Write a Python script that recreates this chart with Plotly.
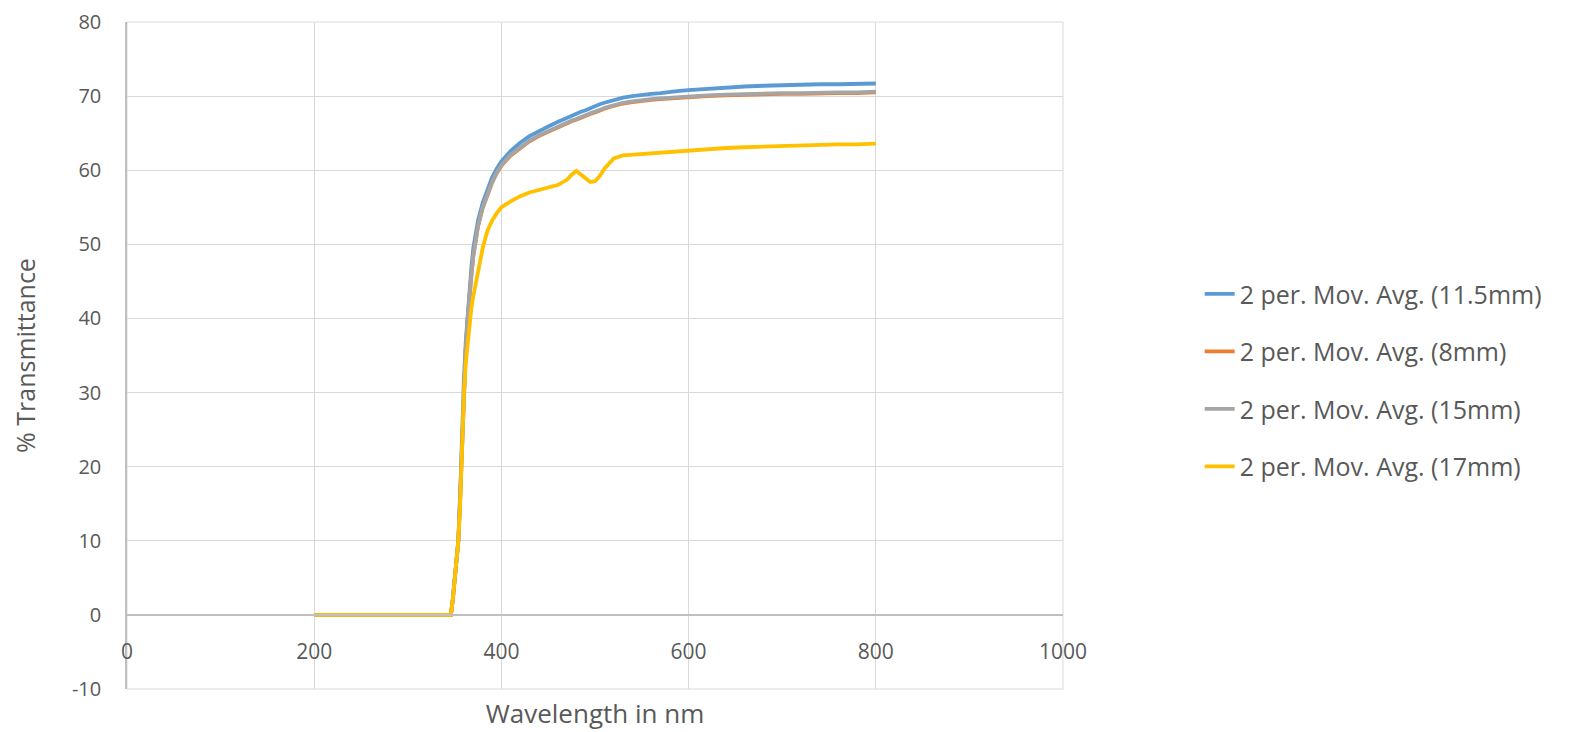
import plotly.graph_objects as go

wavelength = [200, 346, 348, 350, 352, 354, 356, 358, 360, 362,
              364, 366, 368, 370, 375, 380, 385, 390, 395, 400,
              410, 420, 430, 440, 450, 460, 470, 475, 480, 485,
              490, 495, 500, 505, 510, 515, 520, 530, 540, 550,
              560, 570, 580, 590, 600, 620, 640, 660, 680, 700,
              720, 740, 760, 780, 800]

t_11_5mm = [0, 0, 2, 5, 7.5, 10, 16.5, 25, 32, 37,
            41, 44.5, 47, 49.5, 53.2, 55.6, 57.5, 59, 60.2, 61.2,
            62.6, 63.7, 64.6, 65.3, 65.9, 66.5, 67.1, 67.3, 67.6, 67.9,
            68.1, 68.4, 68.6, 68.9, 69.1, 69.3, 69.5, 69.8, 70.0, 70.2,
            70.3, 70.4, 70.6, 70.7, 70.8, 71.0, 71.1, 71.3, 71.4, 71.5,
            71.5, 71.6, 71.6, 71.7, 71.7]

t_8mm = [0, 0, 2, 5, 7.5, 10, 16, 24, 31, 36,
         40, 43.4, 45.9, 48.4, 52.4, 54.9, 56.8, 58.3, 59.6, 60.6,
         62.0, 63.0, 63.9, 64.6, 65.2, 65.8, 66.3, 66.6, 66.8, 67.1,
         67.3, 67.6, 67.8, 68.1, 68.3, 68.5, 68.7, 69.0, 69.2, 69.4,
         69.5, 69.6, 69.7, 69.8, 69.9, 70.0, 70.1, 70.2, 70.2, 70.3,
         70.3, 70.4, 70.4, 70.4, 70.5]

t_15mm = [0, 0, 2, 5, 7.5, 10, 16, 24, 31, 36,
          40, 43.5, 46, 48.5, 52.5, 55, 56.9, 58.4, 59.7, 60.7,
          62.1, 63.1, 64.0, 64.7, 65.3, 65.9, 66.4, 66.7, 66.9, 67.2,
          67.4, 67.7, 67.9, 68.2, 68.4, 68.6, 68.8, 69.1, 69.3, 69.5,
          69.6, 69.7, 69.8, 69.9, 70.0, 70.1, 70.2, 70.3, 70.3, 70.4,
          70.4, 70.5, 70.5, 70.5, 70.6]

t_17mm = [0, 0, 2, 5, 7.5, 10, 15, 23, 30, 34,
          37, 40, 41.5, 43, 46.5, 49.5, 51.8, 53.2, 54.2, 55,
          55.8, 56.5, 57, 57.3, 57.6, 58, 58.7, 59.4, 59.9, 59.4,
          58.8, 58.4, 58.5, 59.2, 60.2, 61, 61.6, 62, 62.1, 62.2,
          62.3, 62.4, 62.5, 62.6, 62.7, 62.9, 63, 63.1, 63.2, 63.3,
          63.4, 63.4, 63.5, 63.5, 63.6]

series_names = ["2 per. Mov. Avg. (11.5mm)", "2 per. Mov. Avg. (8mm)",
                "2 per. Mov. Avg. (15mm)", "2 per. Mov. Avg. (17mm)"]
series_values = [t_11_5mm, t_8mm, t_15mm, t_17mm]
colors = ["#5B9BD5", "#ED7D31", "#A5A5A5", "#FFC000"]

x_ticks = [0, 200, 400, 600, 800, 1000]
y_ticks = [-10, 0, 10, 20, 30, 40, 50, 60, 70, 80]

FONT = "Open Sans"
TXT = "#595959"

fig = go.Figure()
for i, (name, vals, c) in enumerate(zip(series_names, series_values, colors)):
    fig.add_trace(go.Scatter(x=wavelength, y=vals, mode="lines", name=name,
                             legendgroup=f"g{i}",
                             line=dict(color=c, width=3.8)))

fig.update_layout(
    width=1583, height=732,
    margin=dict(l=119, r=528, t=14, b=51, autoexpand=False),
    paper_bgcolor="white", plot_bgcolor="white",
    font=dict(family=FONT, color=TXT, size=21),
    showlegend=True,
    legend=dict(x=1.146, xanchor="left", y=0.463, yanchor="middle",
                font=dict(size=25, color=TXT, family=FONT),
                tracegroupgap=22, traceorder="grouped",
                bgcolor="rgba(0,0,0,0)"),
    xaxis=dict(range=[0, 1000], tickvals=x_ticks,
               ticktext=[str(v) for v in x_ticks], showgrid=True,
               gridcolor="#d9d9d9", gridwidth=1, zeroline=False,
               anchor="free", position=1/9, showline=True,
               linecolor="#bfbfbf", linewidth=1.5, ticks="",
               ticklabelstandoff=18, automargin=False,
               ticklabeloverflow="allow",
               tickfont=dict(size=21, color=TXT, family=FONT),
               title=dict(text="Wavelength in nm", standoff=40,
                          font=dict(size=26, color=TXT, family=FONT))),
    yaxis=dict(range=[-10, 80], tickvals=y_ticks,
               ticktext=[str(v) for v in y_ticks], showgrid=True,
               gridcolor="#d9d9d9", gridwidth=1, zeroline=False,
               showline=True, linecolor="#bfbfbf", linewidth=1.5,
               ticks="", ticklabelstandoff=20, automargin=False,
               ticklabeloverflow="allow",
               tickfont=dict(size=20, color=TXT, family=FONT),
               title=dict(text="% Transmittance", standoff=30,
                          font=dict(size=25, color=TXT, family=FONT))),
    shapes=[dict(type="rect", xref="paper", yref="paper", x0=0, x1=1,
                 y0=0, y1=1, line=dict(color="#d9d9d9", width=1),
                 layer="below")],
)

fig.write_html("out.html")
